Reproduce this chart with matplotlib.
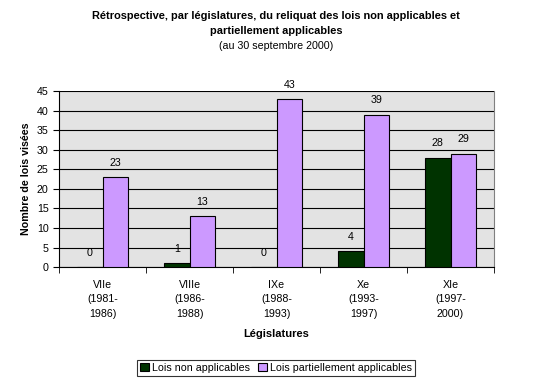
import numpy as np
import matplotlib
matplotlib.use("Agg")
import matplotlib.pyplot as plt

plt.rcParams['font.family'] = ['Liberation Sans', 'DejaVu Sans']

categories = ["VIIe\n(1981-\n1986)", "VIIIe\n(1986-\n1988)", "IXe\n(1988-\n1993)",
              "Xe\n(1993-\n1997)", "XIe\n(1997-\n2000)"]
non_applicables = [0, 1, 0, 4, 28]
partiellement = [23, 13, 43, 39, 29]

fs = 7.7
fig = plt.figure(figsize=(5.52, 3.81), dpi=100)
ax = fig.add_axes([0.107, 0.299, 0.788, 0.462])
ax.set_facecolor('#e3e3e3')

x = np.arange(len(categories))
w = 0.293
b1 = ax.bar(x - w / 2, non_applicables, w, color='#003300', edgecolor='black', linewidth=0.8,
            label='Lois non applicables', zorder=3)
b2 = ax.bar(x + w / 2, partiellement, w, color='#cc99ff', edgecolor='black', linewidth=0.8,
            label='Lois partiellement applicables', zorder=3)
for bars in (b1, b2):
    for r in bars:
        ax.annotate(str(int(r.get_height())), (r.get_x() + r.get_width() / 2, r.get_height()),
                    xytext=(0, 10.2), textcoords='offset points',
                    ha='center', va='center', fontsize=fs)

ax.set_xlim(-0.5, len(categories) - 0.5)
ax.set_ylim(0, 45)
ax.set_yticks(range(0, 46, 5))
ax.yaxis.grid(True, color='black', linewidth=0.8, zorder=1)
ax.set_axisbelow(True)

ax.set_xticks(x)
ax.set_xticklabels(categories, fontsize=fs, linespacing=1.6)
ax.tick_params(axis='x', length=0, pad=9)
ax.set_xticks(np.arange(-0.5, len(categories)), minor=True)
ax.tick_params(axis='x', which='minor', length=4, direction='out', color='black')
ax.tick_params(axis='y', labelsize=fs, length=4, direction='out')

ax.spines['top'].set_visible(False)
ax.spines['right'].set_color('#808080')
ax.spines['left'].set_linewidth(0.8)
ax.spines['bottom'].set_linewidth(0.8)

ax.set_ylabel('Nombre de lois visées', fontsize=fs, fontweight='bold', labelpad=4)
fig.text(0.5 * (0.107 + 0.895), 1 - 334 / 381, 'Législatures', ha='center', va='center',
         fontsize=fs + 0.3, fontweight='bold')

fig.text(0.5, 0.958, "Rétrospective, par législatures, du reliquat des lois non applicables et",
         ha='center', va='center', fontsize=fs + 0.25, fontweight='bold')
fig.text(0.5, 0.918, "partiellement applicables", ha='center', va='center',
         fontsize=fs + 0.25, fontweight='bold')
fig.text(0.5, 0.878, "(au 30 septembre 2000)", ha='center', va='center', fontsize=fs)

leg = ax.legend(loc='center', ncol=2, fontsize=fs, frameon=True, fancybox=False,
                handlelength=0.8, handleheight=0.8, handletextpad=0.3, columnspacing=0.8,
                borderpad=0.3, borderaxespad=0)
leg.set_bbox_to_anchor((0.5, 0.0345), transform=fig.transFigure)
leg.get_frame().set_edgecolor('black')
leg.get_frame().set_linewidth(0.8)

fig.savefig('out.png', dpi=100)
